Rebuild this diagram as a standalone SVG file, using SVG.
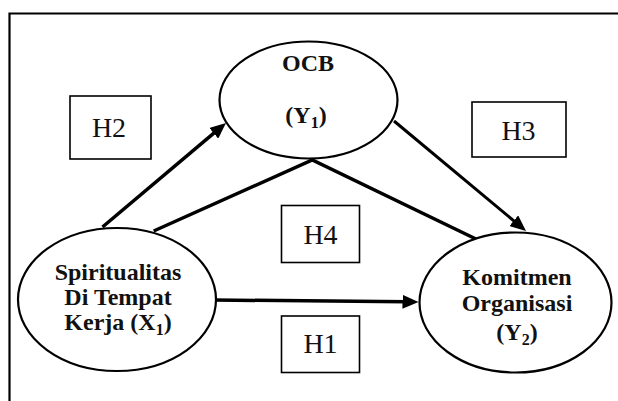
<svg xmlns="http://www.w3.org/2000/svg" width="618" height="401" viewBox="0 0 618 401">
<defs>
<style>
.frame{fill:none;stroke:#000;stroke-width:2.2}
.node{fill:#fff;stroke:#000;stroke-width:2.2}
.box{fill:#fff;stroke:#000;stroke-width:1.6}
.lbl{font-family:"Liberation Serif","Times New Roman",serif;font-weight:bold;font-size:24px;text-anchor:middle;fill:#111}
.hyp{font-family:"Liberation Serif","Times New Roman",serif;font-size:28px;text-anchor:middle;fill:#111}
.sub{font-size:16px}
.conn{fill:none;stroke:#000;stroke-width:3.5}
.thin{stroke-width:3}
</style>
<marker id="arr" viewBox="0 0 16 14" refX="4" refY="7" markerWidth="16" markerHeight="14" markerUnits="userSpaceOnUse" orient="auto">
<path d="M0,0 L16,7 L0,14 z" fill="#000"/>
</marker>
</defs>
<rect width="618" height="401" fill="#fff"/>
<path class="frame" d="M9.5,401 V13.5 H618"/>
<g id="connectors">
<line class="conn" x1="102.5" y1="227" x2="216.8" y2="130.7" marker-end="url(#arr)"/>
<line class="conn thin" x1="394" y1="121" x2="516.8" y2="223.3" marker-end="url(#arr)"/>
<line class="conn" x1="214" y1="300" x2="406.5" y2="301.8" marker-end="url(#arr)"/>
<polyline class="conn" points="153.7,231 312.3,160 477,239.5"/>
</g>
<g id="ocb">
<ellipse class="node" cx="308.5" cy="100" rx="89" ry="58.5"/>
<text class="lbl" x="308" y="71">OCB</text>
<text class="lbl" x="306" y="122.5">(Y<tspan class="sub" dy="5">1</tspan><tspan dy="-5">)</tspan></text>
</g>
<g id="spiritualitas">
<ellipse class="node" cx="117" cy="299.5" rx="99" ry="71.5"/>
<text class="lbl" x="118" y="279.5">Spiritualitas</text>
<text class="lbl" x="118" y="304.5">Di Tempat</text>
<text class="lbl" x="118" y="329.5">Kerja (X<tspan class="sub" dy="5">1</tspan><tspan dy="-5">)</tspan></text>
</g>
<g id="komitmen">
<ellipse class="node" cx="515.5" cy="302.5" rx="96" ry="70"/>
<text class="lbl" x="517" y="285">Komitmen</text>
<text class="lbl" x="517" y="311">Organisasi</text>
<text class="lbl" x="517" y="339.5">(Y<tspan class="sub" dy="5">2</tspan><tspan dy="-5">)</tspan></text>
</g>
<g id="h2">
<rect class="box" x="70" y="96" width="81" height="63"/>
<text class="hyp" x="109" y="137">H2</text>
</g>
<g id="h3">
<rect class="box" x="472" y="102" width="94" height="55"/>
<text class="hyp" x="518.5" y="140">H3</text>
</g>
<g id="h4">
<rect class="box" x="281.5" y="205.5" width="78" height="57"/>
<text class="hyp" x="320.5" y="244">H4</text>
</g>
<g id="h1">
<rect class="box" x="281.5" y="316" width="78" height="56.5"/>
<text class="hyp" x="320.5" y="353">H1</text>
</g>
</svg>
